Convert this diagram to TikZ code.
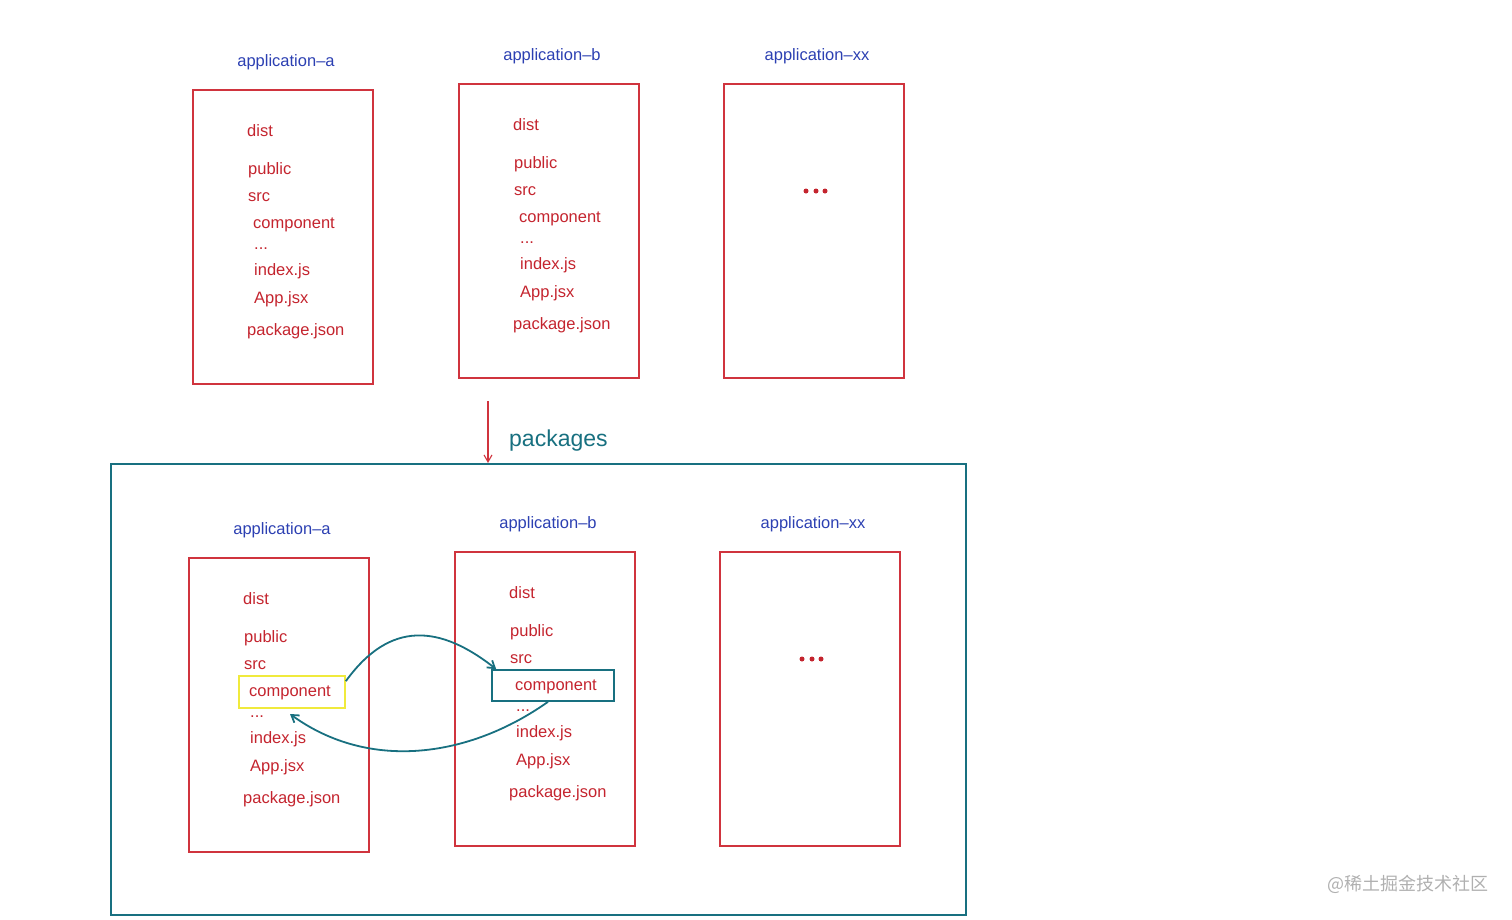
\documentclass[tikz,border=0pt]{standalone}
\usepackage{fontspec}
\setmainfont{Liberation Sans}
\newfontfamily\cjkfont{Noto Sans CJK SC}
\usetikzlibrary{arrows.meta}
\definecolor{fred}{RGB}{196,36,46}
\definecolor{bred}{RGB}{208,52,62}
\definecolor{lblue}{RGB}{44,64,178}
\definecolor{teal2}{RGB}{24,112,128}
\definecolor{hyel}{RGB}{240,234,60}
\definecolor{wgrey}{RGB}{176,176,176}
\tikzset{
  redbox/.style={draw=bred, line width=1.5pt},
  applabel/.style={text=lblue, font=\fontsize{16.5}{20}\selectfont, inner sep=0pt},
  file/.style={text=fred, anchor=west, font=\fontsize{16.5}{20}\selectfont, inner sep=0pt},
  tealline/.style={draw=teal2, line width=1.8pt},
  dotmark/.style={circle, fill=fred, inner sep=0pt, minimum size=5pt},
}
\newcommand{\myapp}[4]{%
  \begin{scope}[shift={(#2,#3)}]
    \node[redbox, minimum width=180pt, minimum height=294pt, anchor=north west, inner sep=0pt] (#1-box) at (0,0) {};
    \node[applabel] (#1-lbl) at (94,-27) {#4};
    \node[file] (#1-dist) at (55,42) {dist};
    \node[file] (#1-pub) at (56,81) {public};
    \node[file] (#1-src) at (56,108) {src};
    \node[file] (#1-comp) at (61,136) {component};
    \node[file] (#1-dots) at (62,160) {...};
    \node[file] (#1-idx) at (62,182) {index.js};
    \node[file] (#1-app) at (62,210) {App.jsx};
    \node[file] (#1-pkg) at (55,242) {package.json};
  \end{scope}}
\newcommand{\myxx}[3]{%
  \begin{scope}[shift={(#2,#3)}]
    \node[redbox, minimum width=180pt, minimum height=294pt, anchor=north west, inner sep=0pt] (#1-box) at (0,0) {};
    \node[applabel] (#1-lbl) at (94,-27) {application–xx};
    \node[dotmark] (#1-d1) at (83,108) {};
    \node[dotmark] (#1-d2) at (93,108) {};
    \node[dotmark] (#1-d3) at (102,108) {};
  \end{scope}}
\begin{document}
\begin{tikzpicture}[x=1pt,y=-1pt]
\useasboundingbox (0,0) rectangle (1512,919);
% top row
\myapp{ta}{192}{89}{application–a}
\myapp{tb}{458}{83}{application–b}
\myxx{tx}{723}{83}
% packages container
\node[draw=teal2, line width=1.5pt, minimum width=855pt, minimum height=451pt, anchor=north west, inner sep=0pt] (pk) at (110,463) {};
\node[text=teal2, anchor=west, inner sep=0pt, font=\fontsize{23}{27}\selectfont] (pklbl) at (509,441) {packages};
\coordinate (arrs) at (488,401);
\draw[draw=bred, line width=1.1pt, -{Straight Barb[length=7pt,width=8pt]}] (arrs) -- (arrs |- pk.north);
% bottom row
\myapp{ba}{188}{557}{application–a}
\myapp{bb}{454}{551}{application–b}
\myxx{bx}{719}{551}
\node[draw=hyel, line width=1.6pt, minimum width=106pt, minimum height=32pt, inner sep=0pt] (ycomp) at (292,692) {};
\node[draw=teal2, line width=1.6pt, minimum width=122pt, minimum height=31pt, inner sep=0pt] (tcomp) at (553,685.5) {};
% share arrows
\draw[tealline, -{Straight Barb[length=7pt,width=9pt]}] ([yshift=-6pt]ycomp.north east) .. controls (390,620) and (440,625) .. ([xshift=5pt]tcomp.north west);
\draw[tealline, -{Straight Barb[length=7pt,width=9pt]}] ([xshift=-5pt]tcomp.south) .. controls (470,757) and (370,772) .. (290,714);
% watermark
\node[text=wgrey, anchor=west, inner sep=0pt, font=\cjkfont\fontsize{18}{21}\selectfont] (wm) at (1327,884) {@稀土掘金技术社区};
\end{tikzpicture}
\end{document}
